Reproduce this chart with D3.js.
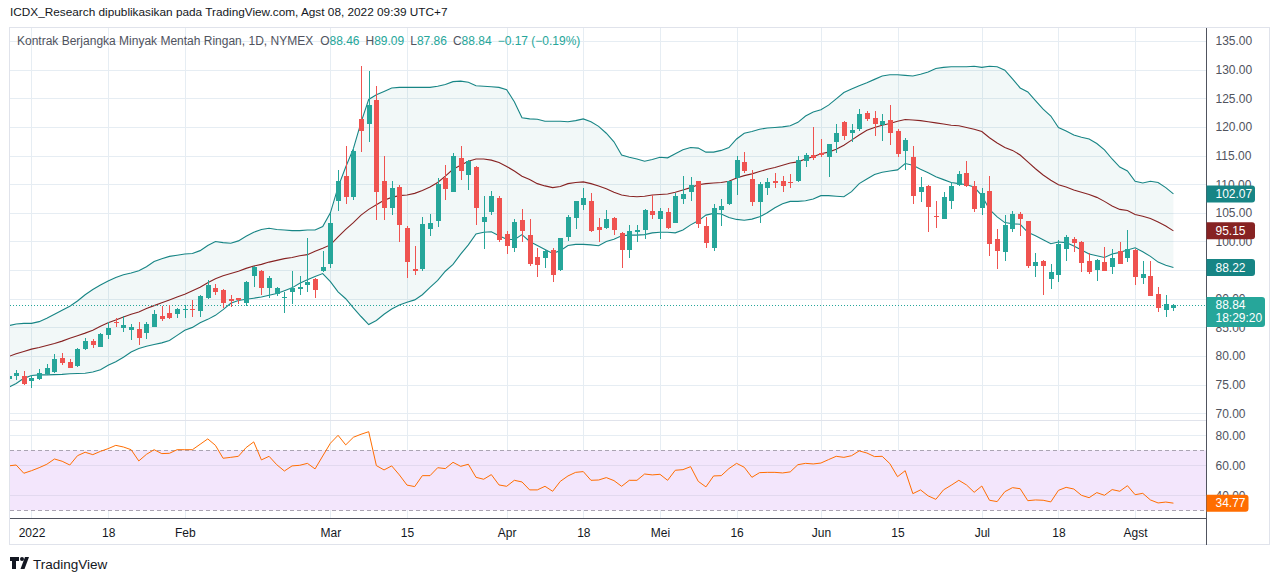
<!DOCTYPE html>
<html>
<head>
<meta charset="utf-8">
<script src="https://cdn.jsdelivr.net/npm/d3@7"></script>
<style>
  body { margin: 0; background: #fff; }
  text { font-family: "Liberation Sans", Arial, sans-serif; }
</style>
</head>
<body>
<div id="chart"></div>
<script>
// trading days shown on the chart (weekdays minus exchange holidays)
var firstDay = "2021-12-29";
var lastDay = "2022-08-08";
var holidays = ["2022-01-17", "2022-02-21", "2022-04-15", "2022-05-30", "2022-06-20", "2022-07-04"];

// daily candles, Dec 29 2021 .. Aug 8 2022 (one line per month)
var open = [
  76.0, 76.5, 76.56,
  75.7, 76.0, 76.8, 77.15, 79.6, 78.9, 78.25, 81.2, 82.7, 81.6, 83.7, 86.0, 84.95, 84.5, 84.8, 84.0, 85.1, 87.05, 87.5, 87.3,
  88.0, 88.2, 87.9, 90.2, 91.8, 91.6, 89.9, 90.1, 89.2, 93.9, 94.85, 91.95, 90.8, 90.2, 91.25, 91.7, 92.4, 93.5, 94.85,
  96.0, 107.1, 111.35, 107.85, 121.4, 120.55, 124.75, 110.5, 105.9, 109.5, 102.27, 95.28, 95.16, 102.16, 103.6, 111.0, 108.7, 114.6, 111.65, 113.0, 103.4, 105.1, 107.6,
  101.3, 98.9, 103.7, 101.2, 97.26, 97.1, 98.5, 95.0, 100.76, 104.1, 106.4, 107.05, 102.5, 102.4, 104.1, 101.5, 98.5, 101.7, 102.0, 105.4,
  103.9, 105.2, 103.3, 107.45, 108.7, 110.5, 102.7, 98.9, 105.5, 106.5, 111.0, 113.9, 110.9, 106.9, 109.3, 110.55, 110.55, 110.4, 110.6, 114.1, 115.1,
  115.5, 114.8, 117.4, 120.9, 119.0, 119.6, 122.5, 121.5, 120.3, 121.2, 119.2, 115.8, 114.7, 108.7, 109.7, 104.4, 104.0, 107.15, 109.8, 111.9, 109.65,
  105.9, 108.8, 100.4, 98.2, 102.2, 104.8, 103.5, 95.8, 96.55, 93.5, 94.2, 98.7, 100.4, 99.9, 96.55, 95.1, 96.4, 95.6, 98.3, 97.1,
  98.5, 93.7, 93.9, 90.9, 88.0, 88.46
];
var high = [
  76.9, 77.55, 77.3,
  76.7, 77.7, 78.55, 80.3, 80.5, 79.5, 81.45, 83.1, 83.0, 84.0, 86.0, 86.7, 87.05, 85.55, 86.0, 86.0, 88.05, 88.65, 88.9, 88.3,
  88.9, 89.8, 90.7, 93.3, 92.6, 91.7, 90.7, 90.2, 93.1, 95.8, 95.1, 93.9, 92.0, 91.25, 94.9, 94.05, 100.55, 93.6, 98.35,
  104.95, 112.5, 116.6, 116.4, 130.7, 129.7, 127.1, 115.0, 110.5, 109.9, 102.7, 99.2, 104.3, 104.8, 111.0, 113.3, 115.4, 116.7, 114.2, 113.1, 107.9, 108.8, 107.9,
  101.8, 103.85, 105.65, 104.0, 98.8, 98.5, 98.8, 100.6, 104.7, 107.05, 109.4, 108.5, 104.1, 105.5, 104.3, 101.7, 102.85, 102.85, 105.6, 108.1,
  105.9, 105.8, 108.5, 111.4, 111.25, 110.6, 104.25, 106.5, 107.4, 110.5, 114.9, 115.6, 112.4, 110.3, 111.0, 111.9, 111.4, 111.8, 114.9, 115.5, 120.0,
  117.9, 117.1, 120.5, 121.0, 120.5, 123.2, 122.8, 122.8, 122.25, 123.8, 119.6, 118.0, 116.65, 111.2, 109.8, 107.0, 108.6, 110.4, 112.3, 114.1, 110.5,
  109.4, 111.4, 102.1, 104.6, 105.3, 105.1, 103.6, 98.0, 96.8, 96.0, 100.2, 101.1, 100.8, 100.0, 97.9, 96.9, 99.05, 98.6, 99.9, 102.0,
  98.6, 96.55, 96.55, 92.05, 90.7, 89.09
];
var low = [
  75.6, 75.8, 74.9,
  74.35, 75.8, 76.6, 77.0, 78.5, 77.85, 78.1, 81.0, 81.35, 81.5, 82.9, 85.0, 84.25, 82.8, 81.9, 83.0, 85.0, 86.2, 86.4, 86.6,
  86.7, 86.9, 86.8, 90.0, 90.6, 88.45, 88.6, 89.0, 88.8, 92.1, 90.7, 90.2, 90.4, 87.5, 89.0, 90.7, 91.25, 90.1, 94.7,
  95.45, 105.35, 106.5, 107.3, 115.7, 117.35, 103.8, 103.8, 104.65, 99.9, 93.65, 94.1, 94.8, 101.0, 102.6, 107.2, 108.6, 110.7, 108.9, 102.9, 98.6, 104.6, 99.9,
  97.8, 98.2, 99.9, 95.7, 93.8, 95.4, 92.95, 94.8, 100.0, 102.2, 105.5, 101.7, 99.9, 102.2, 101.1, 95.4, 97.1, 99.9, 100.35, 103.9,
  100.5, 102.2, 103.2, 106.6, 107.05, 102.3, 98.9, 98.4, 102.7, 106.3, 108.1, 111.9, 106.2, 103.3, 108.2, 109.3, 108.7, 109.4, 110.4, 113.0, 114.3,
  114.8, 111.3, 115.4, 117.8, 117.4, 119.3, 121.1, 118.4, 117.6, 116.8, 114.8, 112.5, 106.5, 106.9, 101.7, 102.4, 103.9, 105.6, 109.6, 109.5, 105.2,
  104.7, 97.5, 95.15, 96.6, 101.7, 101.0, 95.4, 93.8, 90.6, 91.7, 92.9, 96.6, 98.2, 94.7, 94.4, 93.1, 94.8, 94.4, 96.0, 96.4,
  92.35, 92.6, 90.4, 87.7, 86.9, 87.86
];
var close = [
  76.56, 77.0, 75.05,
  76.2, 77.0, 77.85, 79.4, 78.7, 77.95, 81.2, 82.6, 81.9, 83.8, 84.85, 85.7, 85.5, 85.1, 83.1, 85.55, 87.3, 86.4, 86.6, 88.15,
  88.2, 88.1, 90.4, 92.4, 91.25, 89.2, 89.6, 89.8, 93.0, 95.5, 91.8, 93.7, 91.8, 90.3, 91.95, 92.1, 92.9, 91.55, 95.6,
  103.3, 110.6, 107.7, 115.85, 119.3, 123.9, 108.7, 105.8, 109.3, 102.9, 96.44, 94.87, 103.03, 103.2, 110.0, 109.2, 114.9, 112.35, 114.04, 105.8, 104.25, 107.9, 100.3,
  99.25, 103.4, 101.8, 96.0, 95.86, 98.3, 94.2, 100.6, 104.2, 107.05, 107.6, 101.9, 102.04, 103.85, 102.04, 98.5, 101.8, 102.0, 105.5, 104.6,
  105.3, 102.3, 107.9, 108.3, 109.85, 103.1, 99.8, 105.8, 106.2, 110.5, 114.2, 112.35, 106.9, 110.1, 110.3, 110.25, 109.7, 110.25, 114.2, 115.1, 114.6,
  115.1, 117.0, 119.0, 118.4, 119.45, 122.25, 121.3, 120.5, 121.0, 118.9, 115.25, 117.7, 108.0, 109.5, 106.05, 104.25, 107.7, 109.65, 111.7, 109.65, 105.7,
  108.4, 99.5, 98.4, 102.85, 104.8, 103.9, 95.7, 96.4, 95.7, 94.7, 99.5, 100.7, 99.75, 96.3, 94.7, 96.7, 94.9, 97.2, 96.1, 98.65,
  93.8, 94.4, 90.4, 88.45, 89.01, 88.84
];

// Bollinger bands as drawn
var bbUpper = [
  85.3, 85.6, 85.7,
  85.7, 86.0, 86.6, 87.3, 88.0, 88.7, 89.6, 90.7, 91.6, 92.4, 93.1, 93.7, 94.2, 94.5, 94.9, 95.6, 96.5, 97.0, 97.4, 97.6,
  97.8, 97.9, 98.4, 99.3, 100.0, 99.8, 99.7, 100.1, 100.9, 101.6, 102.1, 102.3, 102.1, 102.0, 101.9, 101.9, 102.0, 102.0, 102.6,
  105.0, 109.5, 113.0, 116.2, 120.8, 124.8, 125.6, 126.2, 126.8, 126.9, 126.9, 126.9, 126.9, 126.9, 127.1, 127.4, 127.9, 128.0, 127.8, 127.2, 127.1, 127.0, 126.9,
  126.5, 124.4, 121.6, 121.4, 121.35, 121.0, 121.0, 121.0, 120.9, 121.1, 121.4, 120.9, 120.1, 118.9, 117.4, 115.1, 114.7, 114.4, 114.0, 114.3,
  114.7, 114.6, 115.3, 116.0, 116.4, 116.3, 115.6, 115.6, 115.9, 116.4, 117.9, 118.9, 119.2, 119.6, 119.8, 119.9, 120.0, 120.2, 120.8, 121.9, 122.6,
  123.0, 123.8, 124.9, 126.0, 126.6, 127.2, 127.7, 128.3, 128.9, 129.1, 129.1, 129.0, 128.9, 129.2, 129.6, 130.2, 130.4, 130.5, 130.5, 130.5, 130.6,
  130.4, 130.6, 130.5, 129.9, 128.4, 126.8, 126.1, 124.6, 123.1, 121.9, 119.9, 119.3, 118.6, 118.2, 117.9, 117.1, 116.0, 114.4, 113.0, 112.3,
  110.5, 110.2, 110.5, 110.3, 109.4, 108.3
];
var bbBasis = [
  79.9, 80.4, 80.8,
  81.2, 81.5, 81.85, 82.2, 82.6, 83.1, 83.55, 84.0, 84.5, 85.2, 85.8, 86.3, 86.8, 87.3, 87.7, 88.3, 88.8, 89.3, 89.8, 90.3,
  90.8, 91.4, 92.0, 92.8, 93.5, 94.0, 94.4, 94.8, 95.3, 95.7, 96.0, 96.4, 96.7, 97.0, 97.2, 97.5, 97.7, 98.3, 98.8,
  99.4, 100.8, 102.1, 103.3, 104.6, 105.6, 106.4, 107.2, 107.7, 108.0, 108.1, 108.4, 108.9, 109.5, 110.3, 111.4, 112.6, 113.3, 114.0, 114.4, 114.4, 114.2, 113.8,
  113.1, 112.3, 111.4, 110.8, 110.1, 109.7, 109.4, 109.6, 110.1, 110.3, 110.4, 110.1, 109.7, 109.2, 108.6, 108.1, 107.9, 107.8, 107.9, 108.1,
  108.2, 108.3, 108.6, 109.0, 109.4, 109.9, 110.1, 110.2, 110.3, 110.5, 111.1, 111.5, 111.8, 112.2, 112.6, 112.9, 113.3, 113.7, 113.9, 114.4, 114.8,
  115.3, 115.6, 116.1, 116.8, 117.7, 118.6, 119.4, 119.9, 120.3, 120.6, 121.0, 121.3, 121.2, 121.1, 120.9, 120.7, 120.5, 120.3, 120.2, 119.9, 119.6,
  119.2, 118.1, 117.2, 116.4, 115.9, 115.1, 113.9, 112.7, 111.6, 110.7, 109.9, 109.5, 109.0, 108.6, 108.2, 107.7, 107.0, 106.2, 105.6, 105.4,
  104.7, 104.4, 104.0, 103.4, 102.7, 101.85
];
var bbLower = [
  74.5, 75.2, 76.1,
  76.6, 76.7, 76.7, 76.75, 76.8, 76.9, 76.95, 77.0, 77.2, 77.6, 78.4, 79.0, 79.8, 80.7, 81.3, 81.7, 82.0, 82.3, 82.7, 83.6,
  84.5, 85.0, 85.8, 86.4, 87.1, 88.1, 89.2, 89.7, 89.9, 90.1, 90.3, 90.6, 90.9, 91.4, 91.9, 92.7, 93.3, 93.9, 94.4,
  93.0, 91.2, 90.0, 88.4, 86.9, 85.5, 86.2, 87.3, 88.2, 88.9, 89.4, 89.8, 90.7, 92.0, 93.2, 94.8, 96.0, 97.8, 99.4, 101.3, 101.6, 101.7, 101.0,
  100.4, 100.3, 101.2, 100.0, 99.3, 98.6, 97.9, 98.4, 99.3, 99.5, 99.5, 99.4, 99.25, 100.0, 100.4, 101.0, 101.1, 101.1, 101.2, 101.5,
  101.6, 101.6, 101.5, 102.0, 102.9, 103.6, 104.6, 104.9, 104.8, 104.2, 103.85, 103.7, 103.9, 104.3, 105.0, 105.9, 106.6, 107.0, 107.0, 107.1, 107.4,
  108.0, 108.0, 107.9, 107.8, 108.7, 110.1, 110.9, 111.7, 112.1, 112.3, 112.5, 113.6, 113.3, 112.6, 112.0, 111.3, 110.8, 110.3, 110.1, 109.9, 109.5,
  108.0, 105.6, 104.3, 103.3, 103.1, 103.0, 101.6, 101.0, 100.3, 99.6, 99.9, 99.8, 99.2, 98.5, 97.8, 97.5, 97.2, 97.8, 98.1, 98.5,
  98.9, 98.2, 97.4, 96.4, 95.85, 95.45
];
var bbLabels = ["102.07", "95.15", "88.22"];

// RSI line as drawn
var rsi = [
  59.6, 60.2, 54.7,
  56.4, 58.4, 60.7, 64.2, 62.7, 60.2, 66.4, 68.7, 67.1, 69.3, 71.1, 73.3, 72.2, 70.4, 62.9, 67.3, 70.4, 67.8, 68.0, 70.4,
  70.4, 70.4, 74.0, 77.6, 73.3, 64.7, 65.3, 66.0, 71.8, 75.6, 63.6, 66.0, 60.4, 56.2, 59.6, 60.0, 61.3, 57.6, 66.2,
  74.7, 80.0, 73.6, 78.7, 80.7, 82.4, 59.8, 56.9, 59.6, 53.6, 46.8, 45.8, 53.1, 53.1, 58.4, 57.8, 62.0, 59.3, 60.7, 52.0, 50.7, 53.8, 46.9,
  46.0, 50.0, 48.9, 43.6, 43.6, 46.0, 42.7, 49.3, 52.9, 55.3, 55.8, 50.0, 50.2, 51.8, 49.8, 46.0, 50.0, 50.0, 54.2, 53.6,
  54.0, 50.0, 56.7, 57.1, 59.1, 49.3, 45.6, 52.9, 53.1, 57.8, 61.3, 58.7, 52.0, 55.1, 55.3, 55.3, 54.9, 55.6, 60.4, 61.3, 60.9,
  61.5, 63.8, 66.0, 65.3, 66.4, 69.6, 68.2, 65.8, 66.0, 61.1, 52.4, 56.4, 41.1, 43.6, 39.6, 37.3, 43.6, 46.7, 50.0, 46.9, 42.0,
  46.2, 36.7, 35.8, 42.4, 45.1, 44.4, 36.4, 36.9, 36.7, 35.6, 43.3, 45.3, 44.2, 40.0, 38.4, 41.8, 40.0, 43.8, 42.7, 46.4,
  40.4, 41.3, 36.9, 34.9, 35.5, 34.77
];

var priceTicks = d3.range(70, 136, 5);
var rsiTicks = [80, 60, 40];
var rsiBandEdges = [70, 30];
var xTickDates = ["2022-01-03", "2022-01-18", "2022-02-01", "2022-03-01", "2022-03-15", "2022-04-01", "2022-04-18",
  "2022-05-02", "2022-05-16", "2022-06-01", "2022-06-15", "2022-07-01", "2022-07-18", "2022-08-01"];
var xTickLabels = ["2022", "18", "Feb", "Mar", "15", "Apr", "18", "Mei", "16", "Jun", "15", "Jul", "18", "Agst"];

var headerText = "ICDX_Research dipublikasikan pada TradingView.com, Agst 08, 2022 09:39 UTC+7";
var symbolText = "Kontrak Berjangka Minyak Mentah Ringan, 1D, NYMEX";
var countdown = "18:29:20";

// ---------------------------------------------------------------
var svgWidth = 1280;
var svgHeight = 581;
var pane = { left: 10, right: 1206.5, top: 28, mainBottom: 420, rsiTop: 421, rsiBottom: 518, axisBottom: 545, outer: 1270 };

var upColor = "#26a69a", downColor = "#ef5350";
var bandColor = "#178585", basisColor = "#872323", rsiColor = "#ff6d00";
var gridColor = "#e6edf3", textColor = "#131722", axisText = "#50535e";

var parse = d3.timeParse("%Y-%m-%d");
var fmtDay = d3.timeFormat("%Y-%m-%d");
var days = d3.timeDay.range(parse(firstDay), d3.timeDay.offset(parse(lastDay), 1))
  .filter(d => d.getDay() !== 0 && d.getDay() !== 6 && holidays.indexOf(fmtDay(d)) < 0)
  .map(fmtDay);

var bars = days.map((d, i) => ({ i: i, date: d, o: open[i], h: high[i], l: low[i], c: close[i] }));
var last = bars.length - 1;

var x = d3.scaleLinear().domain([0, last]).range([8.5, 8.5 + 7.664 * last]);
var y = d3.scaleLinear().domain([70, 135]).range([413.3, 41.0]);
var yR = d3.scaleLinear().domain([30, 80]).range([510.3, 435.3]);

var svg = d3.select("#chart").append("svg")
  .attr("width", svgWidth)
  .attr("height", svgHeight);

svg.append("rect").attr("width", svgWidth).attr("height", svgHeight).attr("fill", "#fff");

var defs = svg.append("defs");
defs.append("clipPath").attr("id", "clipMain").append("rect")
  .attr("x", pane.left).attr("y", pane.top)
  .attr("width", pane.right - pane.left).attr("height", pane.mainBottom - pane.top);
defs.append("clipPath").attr("id", "clipRsi").append("rect")
  .attr("x", pane.left).attr("y", pane.rsiTop)
  .attr("width", pane.right - pane.left).attr("height", pane.rsiBottom - pane.rsiTop);

// header
svg.append("text")
  .attr("x", 10).attr("y", 16)
  .attr("font-size", 11.8).attr("fill", textColor)
  .text(headerText);

// grid
var grid = svg.append("g").attr("shape-rendering", "crispEdges");
var xTickIdx = xTickDates.map(d => days.indexOf(d));
grid.selectAll("line.v").data(xTickIdx).enter().append("line")
  .attr("x1", d => Math.round(x(d)) + 0.5).attr("x2", d => Math.round(x(d)) + 0.5)
  .attr("y1", pane.top).attr("y2", pane.rsiBottom)
  .attr("stroke", gridColor);
grid.selectAll("line.h").data(priceTicks).enter().append("line")
  .attr("x1", pane.left).attr("x2", pane.right)
  .attr("y1", d => Math.round(y(d)) + 0.5).attr("y2", d => Math.round(y(d)) + 0.5)
  .attr("stroke", gridColor);

// main pane
var main = svg.append("g").attr("clip-path", "url(#clipMain)");

main.append("path")
  .datum(bars)
  .attr("d", d3.area().x(d => x(d.i)).y0(d => y(bbLower[d.i])).y1(d => y(bbUpper[d.i])))
  .attr("fill", bandColor).attr("fill-opacity", 0.055);

[[bbUpper, bandColor], [bbBasis, basisColor], [bbLower, bandColor]].forEach(function(s) {
  main.append("path")
    .datum(bars)
    .attr("d", d3.line().x(d => x(d.i)).y(d => y(s[0][d.i])))
    .attr("fill", "none").attr("stroke", s[1]).attr("stroke-width", 1.1);
});

// last price dotted line
main.append("line")
  .attr("x1", pane.left).attr("x2", pane.right)
  .attr("y1", Math.round(y(close[last])) + 0.5).attr("y2", Math.round(y(close[last])) + 0.5)
  .attr("stroke", upColor).attr("stroke-dasharray", "1,2");

var candles = main.append("g").attr("shape-rendering", "crispEdges");
candles.selectAll("rect.wick").data(bars).enter().append("rect")
  .attr("x", d => Math.round(x(d.i)))
  .attr("width", 1)
  .attr("y", d => y(d.h))
  .attr("height", d => y(d.l) - y(d.h))
  .attr("fill", d => d.c >= d.o ? upColor : downColor);
candles.selectAll("rect.body").data(bars).enter().append("rect")
  .attr("x", d => Math.round(x(d.i)) - 2)
  .attr("width", 5)
  .attr("y", d => y(Math.max(d.o, d.c)))
  .attr("height", d => Math.max(1, Math.abs(y(d.o) - y(d.c))))
  .attr("fill", d => d.c >= d.o ? upColor : downColor);

// symbol line with OHLC
var fmt = d3.format(".2f");
var chg = close[last] - close[last - 1];
var pct = chg / close[last - 1] * 100;
var title = svg.append("text").attr("x", 17).attr("y", 45).attr("font-size", 12).attr("fill", axisText);
title.append("tspan").text(symbolText);
[["O", open[last]], ["H", high[last]], ["L", low[last]], ["C", close[last]]].forEach(function(p, k) {
  title.append("tspan").attr("dx", k === 0 ? 7 : 6).text(p[0]);
  title.append("tspan").attr("fill", upColor).text(fmt(p[1]));
});
title.append("tspan").attr("dx", 6).attr("fill", upColor).text(fmt(chg) + " (" + fmt(pct) + "%)");

// rsi pane
var rsiG = svg.append("g");
rsiG.append("rect")
  .attr("x", pane.left).attr("width", pane.right - pane.left)
  .attr("y", yR(rsiBandEdges[0])).attr("height", yR(rsiBandEdges[1]) - yR(rsiBandEdges[0]))
  .attr("fill", "#f3e6fc");
rsiG.selectAll("line.g").data(rsiTicks).enter().append("line")
  .attr("x1", pane.left).attr("x2", pane.right)
  .attr("y1", d => Math.round(yR(d)) + 0.5).attr("y2", d => Math.round(yR(d)) + 0.5)
  .attr("stroke", d => d === 80 ? gridColor : "#e2d9ef")
  .attr("shape-rendering", "crispEdges");
rsiG.selectAll("line.band").data(rsiBandEdges).enter().append("line")
  .attr("x1", pane.left).attr("x2", pane.right)
  .attr("y1", d => Math.round(yR(d)) + 0.5).attr("y2", d => Math.round(yR(d)) + 0.5)
  .attr("stroke", "#aaa4b2").attr("stroke-dasharray", "4,3")
  .attr("shape-rendering", "crispEdges");
rsiG.append("path")
  .datum(bars)
  .attr("clip-path", "url(#clipRsi)")
  .attr("d", d3.line().x(d => x(d.i)).y(d => yR(rsi[d.i])))
  .attr("fill", "none").attr("stroke", rsiColor).attr("stroke-width", 1);

// frame and separators
var frame = svg.append("g").attr("shape-rendering", "crispEdges");
frame.append("rect")
  .attr("x", pane.left - 0.5).attr("y", pane.top - 0.5)
  .attr("width", pane.outer - pane.left).attr("height", pane.axisBottom - pane.top)
  .attr("fill", "none").attr("stroke", "#e0e3eb");
frame.append("line")
  .attr("x1", pane.left).attr("x2", pane.right)
  .attr("y1", pane.mainBottom + 0.5).attr("y2", pane.mainBottom + 0.5)
  .attr("stroke", "#e0e3eb");
frame.append("line")
  .attr("x1", pane.left).attr("x2", pane.right)
  .attr("y1", pane.rsiBottom + 0.5).attr("y2", pane.rsiBottom + 0.5)
  .attr("stroke", "#50535e");
frame.append("line")
  .attr("x1", pane.right).attr("x2", pane.right)
  .attr("y1", pane.top).attr("y2", pane.axisBottom)
  .attr("stroke", "#50535e");

// axes
var priceAxis = svg.append("g")
  .attr("transform", `translate(${pane.right}, 0)`)
  .call(d3.axisRight(y).tickValues(priceTicks).tickFormat(fmt).tickSize(0).tickPadding(9));
var rsiAxis = svg.append("g")
  .attr("transform", `translate(${pane.right}, 0)`)
  .call(d3.axisRight(yR).tickValues(rsiTicks).tickFormat(fmt).tickSize(0).tickPadding(9));
var timeAxis = svg.append("g")
  .attr("transform", `translate(0, ${pane.rsiBottom})`)
  .call(d3.axisBottom(x).tickValues(xTickIdx).tickFormat((d, k) => xTickLabels[k]).tickSize(0).tickPadding(10));
[priceAxis, rsiAxis, timeAxis].forEach(function(a) {
  a.select(".domain").remove();
  a.selectAll("text").attr("font-size", 12).attr("fill", textColor)
    .style("font-family", '"Liberation Sans", Arial, sans-serif');
});
priceAxis.selectAll("text").attr("fill", axisText);
rsiAxis.selectAll("text").attr("fill", axisText);

// value labels on the price axis
function axisLabel(color, lines, w, yPos) {
  var hgt = lines.length * 13 + 4;
  var top = yPos - 8.5;
  var g = svg.append("g");
  g.append("path")
    .attr("d", `M${pane.right},${top}h${w - 3}q3,0 3,3v${hgt - 6}q0,3 -3,3h${-(w - 3)}z`)
    .attr("fill", color);
  lines.forEach(function(t, k) {
    g.append("text")
      .attr("x", pane.right + 9).attr("y", top + 12.5 + k * 13)
      .attr("font-size", 12).attr("fill", "#fff")
      .text(t);
  });
}
axisLabel(bandColor, [bbLabels[0]], 48.5, y(bbUpper[last]));
axisLabel(basisColor, [bbLabels[1]], 48.5, y(bbBasis[last]));
axisLabel(bandColor, [bbLabels[2]], 48.5, y(bbLower[last]));
axisLabel(upColor, [fmt(close[last]), countdown], 58.5, y(close[last]));
axisLabel(rsiColor, [fmt(rsi[last])], 42, yR(rsi[last]));

// TradingView logo
var logo = svg.append("g").attr("fill", textColor);
logo.append("path").attr("d", "M10,557h9v4h-3v8h-4v-8h-2z");
logo.append("circle").attr("cx", 22).attr("cy", 559).attr("r", 2);
logo.append("path").attr("d", "M25,557h4l-4.5,12h-4z");
svg.append("text")
  .attr("x", 33).attr("y", 568.5)
  .attr("font-size", 13.5).attr("fill", textColor)
  .text("TradingView");
</script>
</body>
</html>
